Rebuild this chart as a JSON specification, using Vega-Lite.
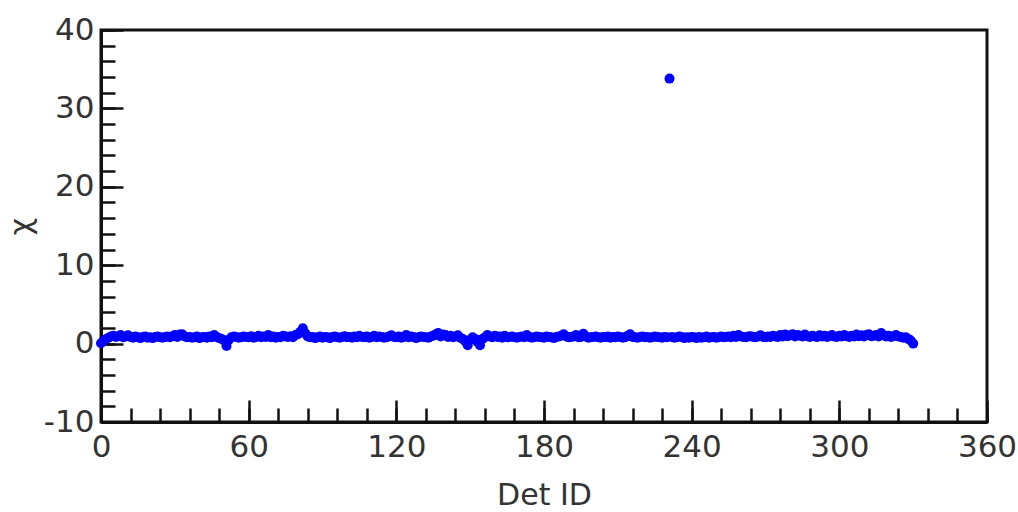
{
"$schema": "https://vega.github.io/schema/vega-lite/v6.json",
"width": 886, "height": 392,
"autosize": "none",
"padding": {"left": 101, "top": 30, "right": 31, "bottom": 90},
"config": {"view": {"stroke": "#111", "strokeWidth": 3}, "font": "DejaVu Sans", "axis": {"grid": false, "tickColor": "#111", "domainColor": "#111", "domainWidth": 3, "tickWidth": 2.5, "labelColor": "#333", "titleColor": "#333", "labelFontSize": 31, "titleFontSize": 30, "titleFontWeight": "normal", "labelFlush": false}},
"data": {"values": [
{"d":0,"c":0.05},{"d":1,"c":0.35},{"d":2,"c":0.55},{"d":3,"c":0.75},{"d":4,"c":0.9},{"d":5,"c":1.0},{"d":6,"c":0.85},{"d":7,"c":0.95},{"d":8,"c":1.1},{"d":9,"c":0.8},
{"d":10,"c":0.9},{"d":11,"c":1.05},{"d":12,"c":0.85},{"d":13,"c":0.75},{"d":14,"c":0.9},{"d":15,"c":0.8},{"d":16,"c":0.7},{"d":17,"c":0.85},{"d":18,"c":0.9},{"d":19,"c":0.75},
{"d":20,"c":0.8},{"d":21,"c":0.7},{"d":22,"c":0.85},{"d":23,"c":0.9},{"d":24,"c":0.8},{"d":25,"c":0.75},{"d":26,"c":0.85},{"d":27,"c":0.9},{"d":28,"c":0.8},{"d":29,"c":0.95},
{"d":30,"c":1.1},{"d":31,"c":0.85},{"d":32,"c":1.15},{"d":33,"c":1.2},{"d":34,"c":0.9},{"d":35,"c":0.8},{"d":36,"c":0.85},{"d":37,"c":0.75},{"d":38,"c":0.8},{"d":39,"c":0.9},
{"d":40,"c":0.7},{"d":41,"c":0.8},{"d":42,"c":0.85},{"d":43,"c":0.75},{"d":44,"c":0.9},{"d":45,"c":0.8},{"d":46,"c":1.1},{"d":47,"c":0.85},{"d":48,"c":0.7},{"d":49,"c":0.6},
{"d":50,"c":0.4},{"d":51,"c":-0.3},{"d":52,"c":0.5},{"d":53,"c":0.8},{"d":54,"c":0.9},{"d":55,"c":0.85},{"d":56,"c":0.75},{"d":57,"c":0.8},{"d":58,"c":0.9},{"d":59,"c":0.85},
{"d":60,"c":0.8},{"d":61,"c":0.95},{"d":62,"c":0.75},{"d":63,"c":0.85},{"d":64,"c":1.0},{"d":65,"c":0.8},{"d":66,"c":0.9},{"d":67,"c":0.85},{"d":68,"c":1.1},{"d":69,"c":0.8},
{"d":70,"c":0.9},{"d":71,"c":0.75},{"d":72,"c":0.85},{"d":73,"c":0.8},{"d":74,"c":1.0},{"d":75,"c":0.9},{"d":76,"c":0.85},{"d":77,"c":0.95},{"d":78,"c":0.8},{"d":79,"c":1.1},
{"d":80,"c":1.2},{"d":81,"c":1.5},{"d":82,"c":1.95},{"d":83,"c":1.3},{"d":84,"c":0.9},{"d":85,"c":0.8},{"d":86,"c":0.85},{"d":87,"c":0.7},{"d":88,"c":0.8},{"d":89,"c":0.9},
{"d":90,"c":0.75},{"d":91,"c":0.85},{"d":92,"c":0.8},{"d":93,"c":0.7},{"d":94,"c":0.85},{"d":95,"c":0.9},{"d":96,"c":0.8},{"d":97,"c":0.75},{"d":98,"c":0.85},{"d":99,"c":0.95},
{"d":100,"c":0.8},{"d":101,"c":0.85},{"d":102,"c":0.75},{"d":103,"c":0.9},{"d":104,"c":0.8},{"d":105,"c":1.0},{"d":106,"c":0.85},{"d":107,"c":0.8},{"d":108,"c":0.9},{"d":109,"c":0.75},
{"d":110,"c":0.85},{"d":111,"c":1.0},{"d":112,"c":0.8},{"d":113,"c":0.9},{"d":114,"c":0.85},{"d":115,"c":0.75},{"d":116,"c":0.8},{"d":117,"c":0.9},{"d":118,"c":1.05},{"d":119,"c":0.85},
{"d":120,"c":0.8},{"d":121,"c":0.9},{"d":122,"c":0.75},{"d":123,"c":0.85},{"d":124,"c":1.1},{"d":125,"c":0.8},{"d":126,"c":0.9},{"d":127,"c":0.85},{"d":128,"c":0.7},{"d":129,"c":0.8},
{"d":130,"c":0.9},{"d":131,"c":0.85},{"d":132,"c":0.8},{"d":133,"c":0.75},{"d":134,"c":0.9},{"d":135,"c":1.0},{"d":136,"c":1.2},{"d":137,"c":1.35},{"d":138,"c":0.9},{"d":139,"c":1.15},
{"d":140,"c":1.1},{"d":141,"c":0.85},{"d":142,"c":1.0},{"d":143,"c":0.8},{"d":144,"c":0.9},{"d":145,"c":1.05},{"d":146,"c":0.75},{"d":147,"c":0.6},{"d":148,"c":0.3},{"d":149,"c":-0.2},
{"d":150,"c":0.5},{"d":151,"c":0.8},{"d":152,"c":0.6},{"d":153,"c":0.2},{"d":154,"c":-0.2},{"d":155,"c":0.6},{"d":156,"c":0.8},{"d":157,"c":1.1},{"d":158,"c":0.9},{"d":159,"c":0.8},
{"d":160,"c":1.0},{"d":161,"c":0.85},{"d":162,"c":0.9},{"d":163,"c":0.75},{"d":164,"c":1.0},{"d":165,"c":0.8},{"d":166,"c":0.85},{"d":167,"c":0.9},{"d":168,"c":0.8},{"d":169,"c":0.75},
{"d":170,"c":0.85},{"d":171,"c":0.9},{"d":172,"c":0.8},{"d":173,"c":1.1},{"d":174,"c":0.85},{"d":175,"c":0.75},{"d":176,"c":0.8},{"d":177,"c":0.9},{"d":178,"c":0.85},{"d":179,"c":0.8},
{"d":180,"c":0.75},{"d":181,"c":0.9},{"d":182,"c":0.85},{"d":183,"c":0.8},{"d":184,"c":0.7},{"d":185,"c":0.85},{"d":186,"c":0.9},{"d":187,"c":1.0},{"d":188,"c":1.2},{"d":189,"c":0.9},
{"d":190,"c":0.8},{"d":191,"c":0.85},{"d":192,"c":0.9},{"d":193,"c":1.1},{"d":194,"c":0.8},{"d":195,"c":0.85},{"d":196,"c":1.25},{"d":197,"c":0.9},{"d":198,"c":0.75},{"d":199,"c":0.8},
{"d":200,"c":0.85},{"d":201,"c":0.9},{"d":202,"c":0.8},{"d":203,"c":0.75},{"d":204,"c":0.85},{"d":205,"c":0.8},{"d":206,"c":0.9},{"d":207,"c":0.75},{"d":208,"c":0.85},{"d":209,"c":0.8},
{"d":210,"c":0.9},{"d":211,"c":0.85},{"d":212,"c":0.75},{"d":213,"c":0.8},{"d":214,"c":1.0},{"d":215,"c":1.2},{"d":216,"c":0.85},{"d":217,"c":0.8},{"d":218,"c":0.75},{"d":219,"c":0.85},
{"d":220,"c":0.9},{"d":221,"c":0.8},{"d":222,"c":0.85},{"d":223,"c":0.75},{"d":224,"c":0.8},{"d":225,"c":0.9},{"d":226,"c":0.85},{"d":227,"c":0.8},{"d":228,"c":0.75},{"d":229,"c":0.85},
{"d":230,"c":0.8},{"d":231,"c":33.8},{"d":232,"c":0.85},{"d":233,"c":0.75},{"d":234,"c":0.8},{"d":235,"c":0.9},{"d":236,"c":0.85},{"d":237,"c":0.7},{"d":238,"c":0.8},{"d":239,"c":0.75},
{"d":240,"c":0.85},{"d":241,"c":0.8},{"d":242,"c":0.7},{"d":243,"c":0.85},{"d":244,"c":0.75},{"d":245,"c":0.8},{"d":246,"c":0.9},{"d":247,"c":0.75},{"d":248,"c":0.8},{"d":249,"c":0.85},
{"d":250,"c":0.75},{"d":251,"c":0.8},{"d":252,"c":0.9},{"d":253,"c":0.8},{"d":254,"c":0.85},{"d":255,"c":0.9},{"d":256,"c":0.8},{"d":257,"c":1.0},{"d":258,"c":0.85},{"d":259,"c":1.1},
{"d":260,"c":0.9},{"d":261,"c":0.85},{"d":262,"c":0.8},{"d":263,"c":0.9},{"d":264,"c":0.95},{"d":265,"c":0.85},{"d":266,"c":0.8},{"d":267,"c":0.9},{"d":268,"c":1.05},{"d":269,"c":0.85},
{"d":270,"c":0.8},{"d":271,"c":0.9},{"d":272,"c":0.85},{"d":273,"c":1.0},{"d":274,"c":0.9},{"d":275,"c":0.85},{"d":276,"c":1.1},{"d":277,"c":0.9},{"d":278,"c":1.15},{"d":279,"c":0.95},
{"d":280,"c":1.05},{"d":281,"c":1.2},{"d":282,"c":0.9},{"d":283,"c":1.1},{"d":284,"c":1.0},{"d":285,"c":0.9},{"d":286,"c":1.15},{"d":287,"c":0.95},{"d":288,"c":0.85},{"d":289,"c":1.0},
{"d":290,"c":0.9},{"d":291,"c":0.85},{"d":292,"c":1.05},{"d":293,"c":0.9},{"d":294,"c":1.0},{"d":295,"c":0.85},{"d":296,"c":0.95},{"d":297,"c":1.1},{"d":298,"c":0.9},{"d":299,"c":0.85},
{"d":300,"c":1.0},{"d":301,"c":0.9},{"d":302,"c":1.1},{"d":303,"c":0.95},{"d":304,"c":0.85},{"d":305,"c":1.0},{"d":306,"c":0.9},{"d":307,"c":1.15},{"d":308,"c":0.95},{"d":309,"c":1.05},
{"d":310,"c":0.9},{"d":311,"c":1.1},{"d":312,"c":1.2},{"d":313,"c":0.95},{"d":314,"c":1.0},{"d":315,"c":1.1},{"d":316,"c":0.9},{"d":317,"c":1.35},{"d":318,"c":1.05},{"d":319,"c":0.9},
{"d":320,"c":1.0},{"d":321,"c":0.85},{"d":322,"c":0.95},{"d":323,"c":1.1},{"d":324,"c":0.9},{"d":325,"c":0.85},{"d":326,"c":0.75},{"d":327,"c":0.8},{"d":328,"c":0.6},{"d":329,"c":0.4},
{"d":330,"c":0.0}
]},
"layer": [
{"mark": {"type": "point", "filled": true, "opacity": 0},
 "encoding": {
  "x": {"field": "d", "type": "quantitative", "scale": {"domain": [0, 360], "nice": false, "zero": false},
        "axis": {"orient": "bottom", "values": [0,12,24,36,48,60,72,84,96,108,120,132,144,156,168,180,192,204,216,228,240,252,264,276,288,300,312,324,336,348,360], "labels": false, "domain": false, "tickSize": -14, "title": null}},
  "y": {"field": "c", "type": "quantitative", "scale": {"domain": [-10, 40], "nice": false, "zero": false},
        "axis": {"orient": "left", "values": [-10,-8,-6,-4,-2,0,2,4,6,8,10,12,14,16,18,20,22,24,26,28,30,32,34,36,38,40], "labels": false, "domain": false, "tickSize": -14, "title": null}}
 }},
{"mark": {"type": "circle", "color": "#0000ff", "opacity": 1, "size": 100},
 "encoding": {
  "x": {"field": "d", "type": "quantitative", "scale": {"domain": [0, 360], "nice": false, "zero": false},
        "axis": {"orient": "bottom", "values": [0,60,120,180,240,300,360], "tickSize": -22, "labelPadding": 32, "labelExpr": "'' + datum.value", "title": "Det ID", "titlePadding": 18}},
  "y": {"field": "c", "type": "quantitative", "scale": {"domain": [-10, 40], "nice": false, "zero": false},
        "axis": {"orient": "left", "values": [-10,0,10,20,30,40], "tickSize": -22, "labelPadding": 29, "labelExpr": "'' + datum.value", "title": "χ", "titlePadding": 7}}
 }}
],
"resolve": {"axis": {"x": "independent", "y": "independent"}}
}
